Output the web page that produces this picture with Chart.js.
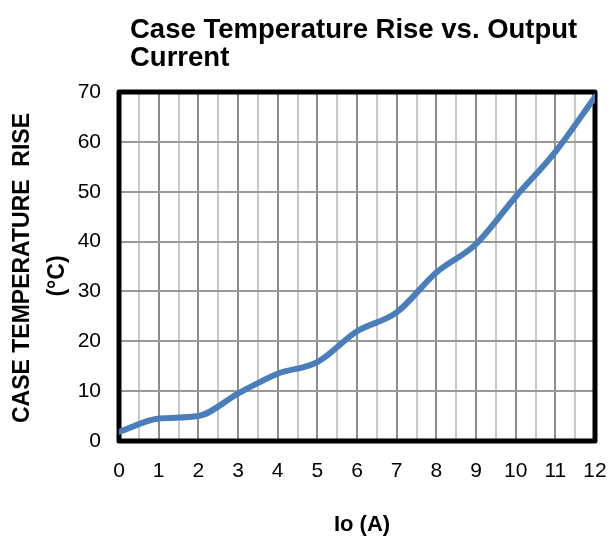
<!DOCTYPE html>
<html>
<head>
<meta charset="utf-8">
<script src="https://cdn.jsdelivr.net/npm/chart.js@4/dist/chart.umd.min.js"></script>
<style>
  html, body { margin: 0; padding: 0; background: #fff; }
  #wrap { width: 610px; height: 539px; position: relative; }
</style>
</head>
<body>
<div id="wrap"><canvas id="c" width="610" height="539"></canvas></div>
<script>
// data
const currentA = [0, 1, 2, 3, 4, 5, 6, 7, 8, 9, 10, 11, 12];
const tempRise = [1.8, 4.5, 5.0, 9.5, 13.5, 15.8, 22, 25.8, 33.8, 39.5, 49, 58, 69];
const titleLines = ['Case Temperature Rise vs. Output', 'Current'];
const yTitleLines = ['CASE TEMPERATURE  RISE', '(°C)'];
const xTitle = 'Io (A)';

const FONT = "'Liberation Sans', Arial, sans-serif";

// frame + texts drawn by hand, Chart.js only does border on two sides
const framePlugin = {
  id: 'frame',
  beforeDatasetsDraw(chart) {
    const { ctx, chartArea: a } = chart;
    ctx.save();
    ctx.strokeStyle = '#000';
    ctx.lineWidth = 5;
    ctx.lineJoin = 'round';
    ctx.strokeRect(a.left, a.top, a.right - a.left, a.bottom - a.top);
    ctx.restore();
  },
  afterDraw(chart) {
    const { ctx } = chart;
    ctx.save();
    ctx.fillStyle = '#000';
    ctx.textBaseline = 'middle';

    // chart title
    ctx.font = `bold 27.5px ${FONT}`;
    ctx.textAlign = 'left';
    ctx.fillText(titleLines[0], 130, 30);
    ctx.fillText(titleLines[1], 130, 58);

    // y axis title, rotated
    ctx.font = `bold 23px ${FONT}`;
    ctx.textAlign = 'center';
    ctx.save();
    ctx.translate(23, 268);
    ctx.rotate(-Math.PI / 2);
    ctx.fillText(yTitleLines[0], 0, 0);
    ctx.restore();
    ctx.save();
    ctx.translate(58, 276);
    ctx.rotate(-Math.PI / 2);
    ctx.fillText(yTitleLines[1], 0, 0);
    ctx.restore();

    // x axis title
    ctx.font = `bold 22px ${FONT}`;
    ctx.fillText(xTitle, 362, 525);
    ctx.restore();
  }
};

new Chart(document.getElementById('c'), {
  type: 'line',
  data: {
    labels: currentA,
    datasets: [{
      data: currentA.map((x, i) => ({ x, y: tempRise[i] })),
      borderColor: '#4a7ebb',
      borderWidth: 6,
      pointRadius: 0,
      fill: false,
      cubicInterpolationMode: 'monotone',
      borderCapStyle: 'round',
    }]
  },
  options: {
    responsive: false,
    animation: false,
    layout: { padding: { top: 92, right: 15, left: 0, bottom: 0 } },
    plugins: { legend: { display: false }, tooltip: { enabled: false }, title: { display: false } },
    scales: {
      x: {
        type: 'linear',
        min: 0,
        max: 12,
        afterFit: (s) => {
          s.height = 98;
          // ignore label overflow, outer padding is set by hand
          s.paddingLeft = 0;
          s.paddingRight = 0;
        },
        afterBuildTicks: (s) => {
          const t = [];
          for (let v = 0; v <= 12; v += 0.5) t.push({ value: v });
          s.ticks = t;
        },
        ticks: {
          autoSkip: false,
          maxRotation: 0,
          padding: 18,
          color: '#000',
          font: { family: FONT, size: 21 },
          callback: (v) => (v % 1 === 0 ? String(v) : ''),
        },
        grid: {
          drawTicks: false,
          lineWidth: 2,
          color: (c) => (c.tick && c.tick.value % 1 === 0 ? '#8c8c8c' : '#c8c8c8'),
        },
        border: { display: false },
      },
      y: {
        min: 0,
        max: 70,
        afterFit: (s) => { s.width = 119; },
        ticks: {
          stepSize: 10,
          padding: 18,
          color: '#000',
          font: { family: FONT, size: 21 },
        },
        grid: { drawTicks: false, lineWidth: 2, color: '#999999' },
        border: { display: false },
      }
    }
  },
  plugins: [framePlugin]
});
</script>
</body>
</html>
